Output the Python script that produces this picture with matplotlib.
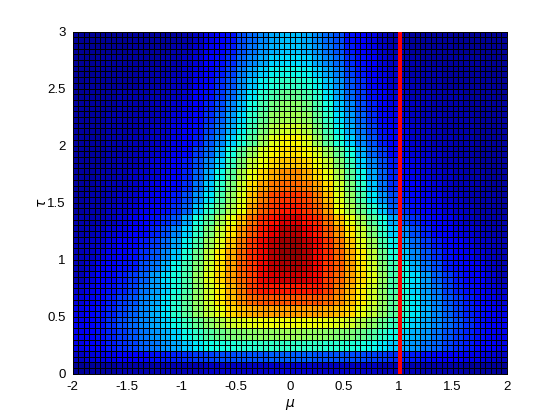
import numpy as np
import matplotlib
matplotlib.use("Agg")
import matplotlib.pyplot as plt

plt.rcParams['font.family'] = ['Liberation Sans', 'DejaVu Sans']

# Colour level (0-100 of jet), left half of the plot,
# top row (tau = 3) first; each reading covers 2 x 2 grid cells.
density_left_half = [
    [2,2,2,2,2,3,3,3,3,3,4,6,9,11,14,20,23,26,29,31],
    [2,2,2,2,2,3,3,3,3,4,5,7,10,12,15,21,24,27,30,32],
    [2,2,3,3,3,3,3,3,4,4,6,8,11,14,17,23,26,29,33,34],
    [2,2,3,3,3,3,4,4,4,5,7,9,12,15,19,25,29,33,36,37],
    [2,3,3,3,3,3,4,4,5,6,7,10,13,17,21,27,32,36,39,41],
    [2,3,3,3,4,4,4,5,5,6,8,11,14,18,23,29,35,40,44,47],
    [3,3,3,3,4,4,4,5,6,7,9,12,16,20,26,32,38,44,49,52],
    [3,3,3,4,4,4,5,5,6,8,10,13,17,22,28,34,41,47,53,55],
    [3,3,3,4,4,4,5,6,7,9,11,14,19,24,30,36,43,50,57,60],
    [3,3,3,4,4,5,5,6,7,9,12,15,21,26,33,39,46,54,62,65],
    [3,3,3,4,4,5,6,7,8,10,13,18,23,30,38,47,54,61,65,67],
    [3,3,3,4,5,5,6,8,9,11,15,20,26,33,42,51,59,64,68,70],
    [3,3,4,4,5,6,7,8,10,12,16,22,29,37,46,56,63,68,73,76],
    [3,3,4,5,5,6,8,9,11,13,17,24,32,41,50,60,68,74,78,80],
    [3,4,4,5,6,7,9,10,13,15,20,27,35,44,53,62,71,78,83,85],
    [3,4,4,6,7,8,10,11,14,17,22,32,40,48,56,64,74,81,85,88],
    [4,4,5,6,8,10,12,14,17,21,29,38,46,55,63,71,79,86,89,92],
    [4,5,6,8,9,11,13,16,20,26,33,41,50,59,67,75,82,88,91,95],
    [5,6,7,9,11,13,15,18,23,29,36,44,54,62,70,78,85,90,94,97],
    [5,6,8,10,12,14,17,21,26,32,39,48,58,66,73,80,86,90,95,98],
    [5,7,10,12,14,15,20,24,30,37,43,51,60,67,74,81,85,90,94,96],
    [5,8,11,13,15,18,22,28,34,38,44,53,62,68,74,80,84,90,92,93],
    [7,9,12,14,16,19,24,28,33,38,44,52,60,66,72,78,84,88,88,88],
    [8,10,13,15,18,21,25,29,35,40,46,53,60,66,71,76,80,82,82,82],
    [9,11,14,16,19,22,26,30,35,40,46,52,58,63,68,71,73,74,74,74],
    [10,12,14,17,20,23,26,29,33,37,42,47,52,56,60,62,63,64,64,64],
    [10,12,14,16,18,21,24,27,30,33,37,41,45,48,50,51,52,53,53,54],
    [9,11,13,15,17,19,22,24,27,29,32,35,37,38,39,40,40,41,41,41],
    [6,8,9,10,11,12,13,14,15,16,17,18,19,20,20,21,21,21,22,22],
    [2,3,3,3,4,4,4,4,5,5,5,5,6,6,6,6,6,6,7,7],
]
mu_edges = np.linspace(-2, 2, 81)
tau_edges = np.linspace(0, 3, 61)
mu_marker = 1.012
x_ticks = [-2, -1.5, -1, -0.5, 0, 0.5, 1, 1.5, 2]
x_tick_labels = ['-2', '-1.5', '-1', '-0.5', '0', '0.5', '1', '1.5', '2']
y_ticks = [0, 0.5, 1, 1.5, 2, 2.5, 3]
y_tick_labels = ['0', '0.5', '1', '1.5', '2', '2.5', '3']

half = np.array(density_left_half, dtype=float)
full = np.hstack([half, half[:, ::-1]])[::-1]
cells = np.repeat(np.repeat(full, 2, axis=0), 2, axis=1)

fig = plt.figure(figsize=(5.6, 4.2), dpi=100, facecolor='white')
ax = fig.add_axes([0.13, 0.11, 0.775, 0.815])
ax.pcolormesh(mu_edges, tau_edges, cells, cmap='jet', vmin=0, vmax=100,
              edgecolors='black', linewidth=0.4, antialiased=False)
ax.axvline(mu_marker, color='#ff0000', lw=2.6, solid_capstyle='butt',
           zorder=10, antialiased=False)
ax.set_xlim(-2, 2)
ax.set_ylim(0, 3)
ax.set_xticks(x_ticks, x_tick_labels)
ax.set_yticks(y_ticks, y_tick_labels)
ax.tick_params(direction='in', length=3, width=0.6, labelsize=9.5, pad=5,
               top=True, right=True)
ax.set_xlabel('$\\mu$', fontsize=10, labelpad=3)
ax.set_ylabel('$\\tau$', fontsize=10, labelpad=-1)
for s in ax.spines.values():
    s.set_linewidth(0.7)
fig.savefig('out.png', dpi=100)
